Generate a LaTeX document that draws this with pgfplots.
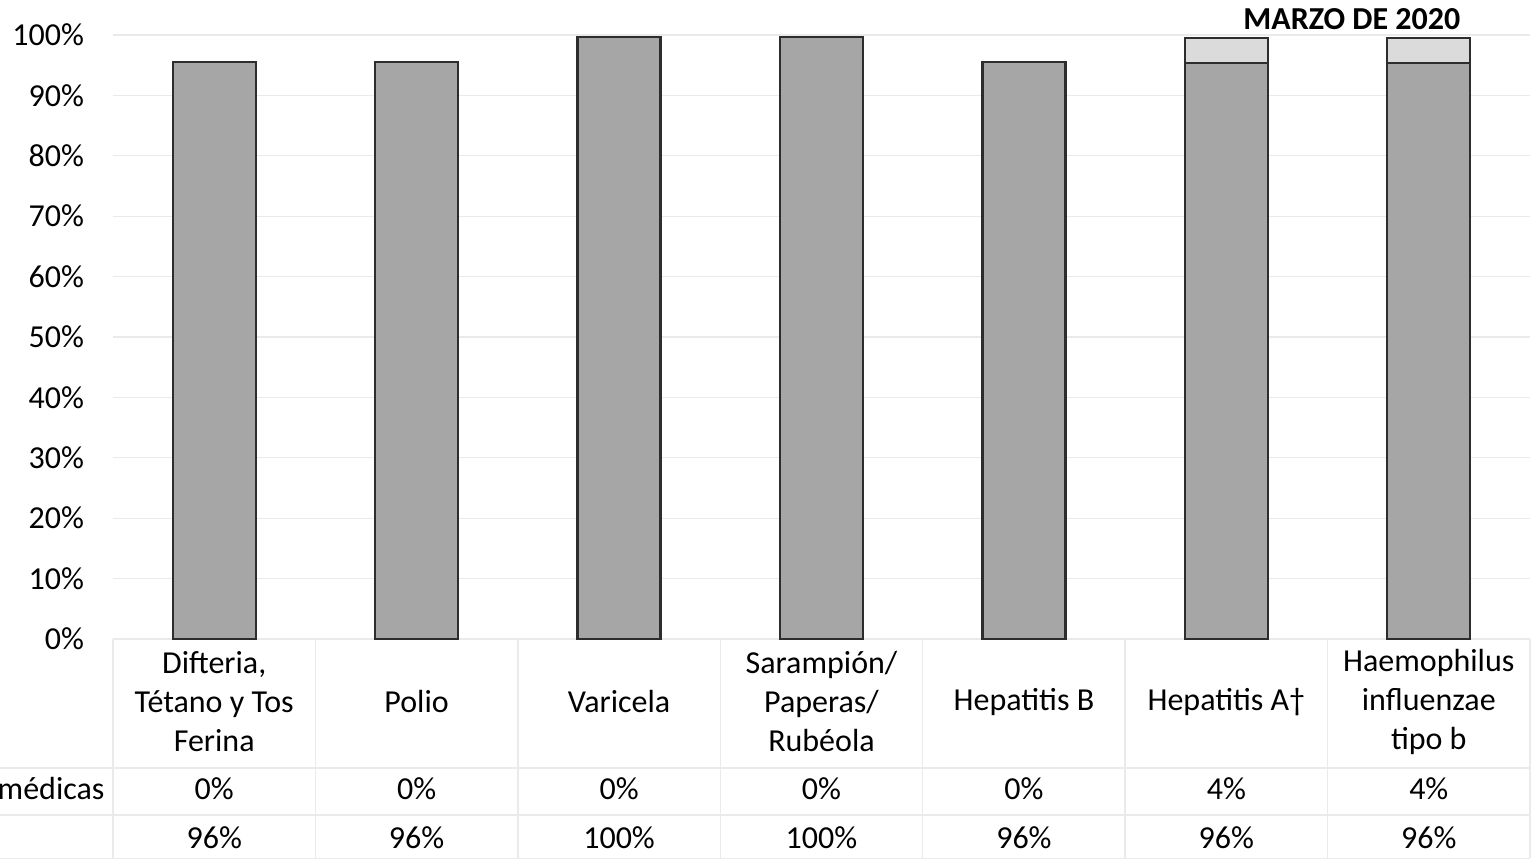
\documentclass[border=0pt]{standalone}
\usepackage{fontspec}
\setmainfont{Carlito}
\usepackage{pgfplots}
\pgfplotsset{compat=1.18}

\definecolor{barlow}{RGB}{166,166,166}
\definecolor{barhigh}{RGB}{219,219,219}
\definecolor{baredge}{RGB}{45,45,45}
\definecolor{gridc}{RGB}{234,234,234}

\begin{document}
\begin{tikzpicture}[tbl/.style={font=\fontsize{16}{19.5}\selectfont}]
\begin{axis}[
    scale only axis,
    width=708.5pt, height=302pt,
    xmin=-0.5, xmax=6.5,
    ymin=0, ymax=100,
    ybar stacked,
    bar width=0.41,
    clip=false,
    axis line style={draw=none},
    major tick length=0pt,
    ymajorgrids=true,
    grid style={gridc, line width=0.6pt},
    ytick={0,10,...,100},
    yticklabel={\pgfmathprintnumber{\tick}\%},
    /pgf/number format/assume math mode=true,
    yticklabel style={font=\fontsize{16}{19.5}\selectfont, anchor=east, xshift=-11pt},
    xtick={0,...,6},
    xticklabels={{Difteria,\\Tétano y Tos\\Ferina}, Polio, Varicela,
                 {Sarampión/\\Paperas/\\Rubéola}, Hepatitis B, Hepatitis A†,
                 {Haemophilus\\influenzae\\tipo b}},
    xticklabel style={font=\fontsize{16}{19.5}\selectfont, align=center, anchor=center, yshift=-31.5pt},
]
% lower segment
\addplot[fill=barlow, draw=baredge, line width=1.1pt] coordinates {
    (0,95.5) (1,95.5) (2,99.7) (3,99.7) (4,95.5) (5,95.3) (6,95.3)
};
% upper segment
\addplot[fill=barhigh, draw=baredge, line width=1.1pt] coordinates {
    (0,0) (1,0) (2,0) (3,0) (4,0) (5,4.2) (6,4.2)
};

% data table lines
\pgfplotsinvokeforeach{-0.5,0.5,1.5,2.5,3.5,4.5,5.5,6.5}{
    \draw[gridc, line width=0.7pt] (axis cs:#1,0) -- (axis cs:#1,-36.3);
}
\draw[gridc, line width=0.7pt] (axis cs:-1.06,-21.36) -- (axis cs:6.5,-21.36);
\draw[gridc, line width=0.7pt] (axis cs:-1.06,-29.14) -- (axis cs:6.5,-29.14);
\draw[gridc, line width=0.7pt] (axis cs:-1.06,-36.3) -- (axis cs:6.5,-36.3);

\node[tbl, anchor=east, inner sep=0pt] at (axis cs:-0.54,-24.83) {médicas};
% row: médicas
\node[tbl] at (axis cs:0,-24.83) {0\%};
\node[tbl] at (axis cs:1,-24.83) {0\%};
\node[tbl] at (axis cs:2,-24.83) {0\%};
\node[tbl] at (axis cs:3,-24.83) {0\%};
\node[tbl] at (axis cs:4,-24.83) {0\%};
\node[tbl] at (axis cs:5,-24.83) {4\%};
\node[tbl] at (axis cs:6,-24.83) {4\%};
% row: second series
\node[tbl] at (axis cs:0,-32.95) {96\%};
\node[tbl] at (axis cs:1,-32.95) {96\%};
\node[tbl] at (axis cs:2,-32.95) {100\%};
\node[tbl] at (axis cs:3,-32.95) {100\%};
\node[tbl] at (axis cs:4,-32.95) {96\%};
\node[tbl] at (axis cs:5,-32.95) {96\%};
\node[tbl] at (axis cs:6,-32.95) {96\%};

\node[font=\fontsize{16}{19}\selectfont\bfseries] at (axis cs:5.62,102.6) {MARZO DE 2020};

\coordinate (BL) at (axis cs:-1.0582,-36.59);
\coordinate (TR) at (axis cs:6.5247,105.79);
\end{axis}
\pgfresetboundingbox
\path[use as bounding box] (BL) rectangle (TR);
\end{tikzpicture}
\end{document}
